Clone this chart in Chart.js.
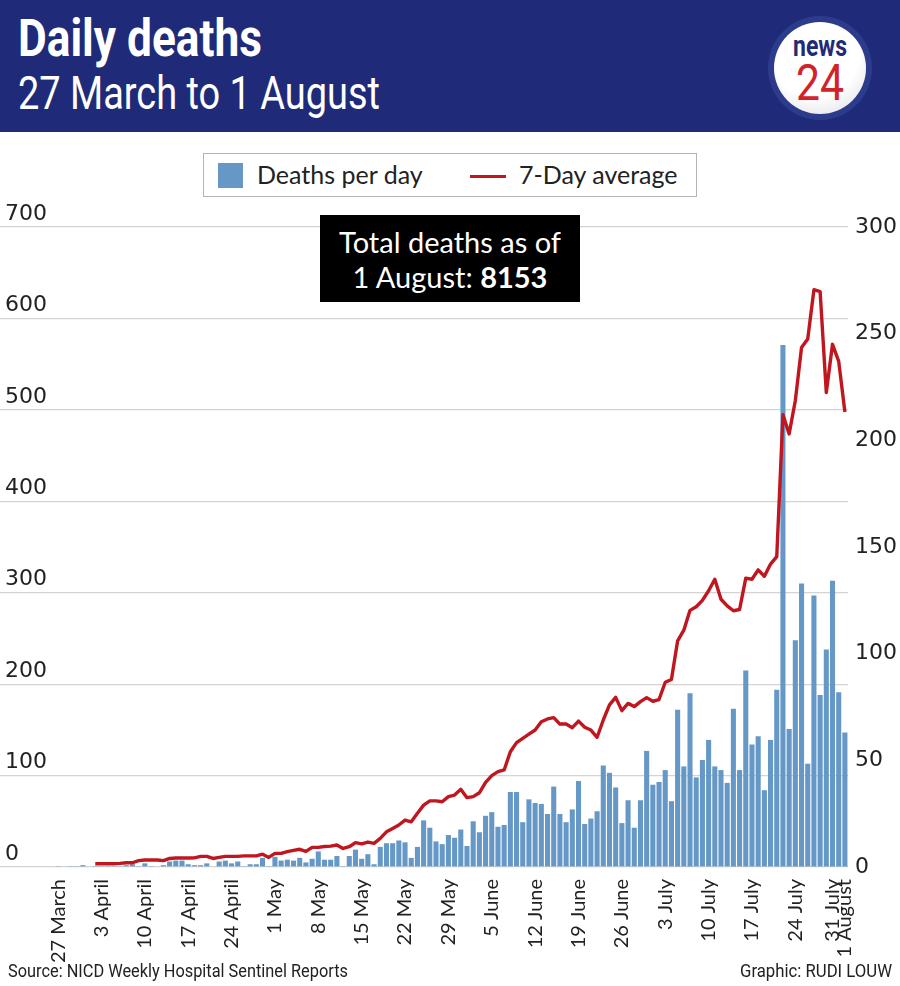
<!DOCTYPE html>
<html>
<head>
<meta charset="utf-8">
<script src="https://cdn.jsdelivr.net/npm/chart.js@4.4.1/dist/chart.umd.min.js"></script>
<style>
  html, body { margin: 0; padding: 0; background: #fff; }
  #wrap { position: relative; width: 900px; height: 986px; overflow: hidden; }
  #chart { position: absolute; left: 0; top: 0; }
  .abs { position: absolute; white-space: nowrap; }
  .cond { font-family: Roboto, "DejaVu Sans Condensed", sans-serif; transform-origin: 0 0; }
  #banner { left: 0; top: 0; width: 900px; height: 132px; background: #1f2b78; }
  #title { left: 18px; top: 13px; font-size: 51px; line-height: 51px; font-weight: bold; color: #fff; }
  #subtitle { left: 18px; top: 70px; font-size: 46px; line-height: 46px; color: #fff; }
  #logo { left: 768px; top: 16px; width: 104px; height: 104px; border-radius: 50%; background: #2c3b8c; }
  #logoIn { left: 6px; top: 6px; width: 92px; height: 92px; border-radius: 50%;
            background: radial-gradient(circle at 45% 35%, #ffffff 55%, #d9d9de 100%); }
  #logoNews { left: 19px; top: 10px; font-size: 29px; line-height: 29px; font-weight: bold; color: #1f2b78; }
  #logo24 { left: 22px; top: 36px; font-size: 50px; line-height: 50px; color: #d2232a; }
  #legend { left: 203px; top: 153px; width: 492px; height: 42px; border: 1.5px solid #b3b3b3; background: #fff; }
  .legTxt { font-family: Lato, "Open Sans", sans-serif; font-size: 25px; line-height: 25px; color: #222; top: 8px; }
  #legSq { left: 14px; top: 9px; width: 25px; height: 25px; background: #6598c6; }
  #legLn { left: 266px; top: 21px; width: 36px; height: 3px; background: #c0161f; }
  #note { left: 320px; top: 215px; width: 260px; height: 87px; background: #000; color: #fff;
          font-family: Lato, "Open Sans", sans-serif; font-size: 29px; line-height: 35px; text-align: center; }
  #note div { position: relative; top: 9px; }
  #source { left: 8px; top: 961px; font-size: 19px; line-height: 19px; color: #222; }
  #credit { left: 740px; top: 961px; font-size: 19px; line-height: 19px; color: #222; }
</style>
</head>
<body>
<div id="wrap">
  <canvas id="chart" width="900" height="986"></canvas>

  <div id="banner" class="abs">
    <div id="title" class="abs cond" data-w="244">Daily deaths</div>
    <div id="subtitle" class="abs cond" data-w="362">27 March to 1 August</div>
    <div id="logo" class="abs">
      <div id="logoIn" class="abs">
        <div id="logoNews" class="abs cond" data-w="54">news</div>
        <div id="logo24" class="abs cond" data-w="48">24</div>
      </div>
    </div>
  </div>

  <div id="legend" class="abs">
    <div id="legSq" class="abs"></div>
    <div class="abs legTxt" style="left:53px">Deaths per day</div>
    <div id="legLn" class="abs"></div>
    <div class="abs legTxt" style="left:315px">7-Day average</div>
  </div>

  <div id="note" class="abs">
    <div>Total deaths as of</div>
    <div>1 August: <b>8153</b></div>
  </div>

  <div id="source" class="abs cond" data-w="340">Source: NICD Weekly Hospital Sentinel Reports</div>
  <div id="credit" class="abs cond" data-w="152">Graphic: RUDI LOUW</div>
</div>

<script>
// squeeze the condensed headline/footer texts to the widths of the source
document.querySelectorAll('[data-w]').forEach(el => {
  const w = el.getBoundingClientRect().width;
  el.style.transform = 'scaleX(' + (el.dataset.w / w) + ')';
});

// one category per day, 27 March to 1 August
const startDate = new Date(2020, 2, 27);
const dayCount = 128;
const months = ['January','February','March','April','May','June','July','August'];
const days = [];
for (let i = 0; i < dayCount; i++) {
  const d = new Date(startDate.getFullYear(), startDate.getMonth(), startDate.getDate() + i);
  days.push(d.getDate() + ' ' + months[d.getMonth()]);
}

// labels shown under the axis (the source nudges "31 July" left to make room)
const tickLabels = {
  '27 March': '27 March', '3 April': '3 April', '10 April': '10 April', '17 April': '17 April',
  '24 April': '24 April', '1 May': '1 May', '8 May': '8 May', '15 May': '15 May',
  '22 May': '22 May', '29 May': '29 May', '5 June': '5 June', '12 June': '12 June',
  '19 June': '19 June', '26 June': '26 June', '3 July': '3 July', '10 July': '10 July',
  '17 July': '17 July', '24 July': '24 July', '30 July': '31 July', '1 August': '1 August'
};

// deaths per day (left axis)
const deaths = [
  1, 0, 1, 1, 2, 0, 1, 1, 1, 1,
  1, 2, 3, 1, 4, 1, 0, 2, 6, 7,
  7, 3, 2, 2, 4, 0, 6, 7, 4, 6,
  1, 3, 3, 10, 1, 11, 7, 8, 7, 10,
  5, 9, 17, 8, 8, 12, 1, 12, 19, 9,
  14, 3, 22, 26, 26, 29, 27, 10, 22, 51,
  43, 28, 25, 35, 32, 41, 23, 50, 38, 56,
  60, 44, 46, 82, 82, 49, 74, 70, 69, 58,
  88, 58, 49, 63, 94, 47, 53, 61, 111, 103,
  87, 48, 73, 43, 73, 127, 90, 93, 106, 72,
  172, 110, 190, 98, 117, 139, 110, 106, 92, 173,
  106, 215, 134, 143, 84, 139, 194, 571, 151, 248,
  310, 113, 297, 188, 238, 313, 191, 147
];

// 7-day average (right axis)
const sevenDay = [
  null, null, null, null, null, null, 1.5, 1.5, 1.5, 1.5,
  1.7, 2, 2, 3, 3.3, 3.3, 3.3, 3, 4, 4.2,
  4.2, 4.2, 4.3, 5, 5, 4, 4.5, 5, 5, 5,
  5.2, 5.2, 5.2, 6, 4.5, 6.4, 6.4, 7.2, 7.8, 8.3,
  7.3, 9.2, 9.2, 9.6, 9.8, 10.3, 8.7, 9.5, 11.4, 10.8,
  11.7, 11.1, 13.4, 16.5, 18.1, 19.7, 22, 21.2, 25.2, 29,
  31, 31, 30.6, 33, 33.7, 36.4, 32.5, 33, 34.8, 39.7,
  42.8, 44.7, 45.5, 54, 58.3, 60.3, 62.3, 64.2, 68.1, 69.4,
  70, 67, 67, 65.3, 68.4, 65.5, 64.2, 60.8, 68.9, 76,
  79.5, 73.3, 76.7, 75.2, 77.5, 79.4, 77.7, 78.5, 86.6, 87.9,
  106, 111, 120.3, 122, 125, 129.5, 134.9, 125.5, 122.4, 120.1,
  120.7, 135.4, 134.9, 139.3, 136.3, 142, 145.5, 212, 203, 218.7,
  243.5, 247.5, 270.6, 269.7, 222.4, 245, 237, 213.3
];

const leftTicks = [0, 100, 200, 300, 400, 500, 600, 700];
const rightTicks = [0, 50, 100, 150, 200, 250, 300];

const axisFont = { family: '"DejaVu Sans", sans-serif', size: 22 };

new Chart(document.getElementById('chart'), {
  type: 'bar',
  data: {
    labels: days,
    datasets: [{
      label: '7-Day average',
      type: 'line',
      data: sevenDay,
      yAxisID: 'y2',
      order: 0,
      borderColor: '#c0161f',
      borderWidth: 3.4,
      pointRadius: 0,
      tension: 0,
      borderJoinStyle: 'round'
    }, {
      label: 'Deaths per day',
      data: deaths,
      yAxisID: 'y',
      order: 1,
      backgroundColor: '#6598c6',
      borderWidth: 0,
      barPercentage: 0.82,
      categoryPercentage: 1
    }]
  },
  options: {
    responsive: false,
    animation: false,
    layout: { padding: { left: 5, right: 0, top: 227, bottom: 19 } },
    plugins: { legend: { display: false }, tooltip: { enabled: false } },
    scales: {
      x: {
        grid: { display: false },
        border: { display: false },
        ticks: {
          autoSkip: false,
          maxRotation: 90,
          minRotation: 90,
          padding: 4,
          color: '#222',
          font: { family: 'Lato, "Open Sans", sans-serif', size: 20 },
          callback: (v, i) => tickLabels[days[i]] || ''
        },
        afterFit: s => { s.height = 100; }
      },
      y: {
        position: 'left',
        min: leftTicks[0],
        max: leftTicks[leftTicks.length - 1],
        afterBuildTicks: s => { s.ticks = leftTicks.map(v => ({ value: v })); },
        grid: { color: '#d3d3d3', lineWidth: 1.2, tickLength: 55 },
        border: { display: false },
        ticks: { crossAlign: 'far', labelOffset: -13, padding: 0, color: '#222', font: axisFont },
        afterFit: s => { s.width = 50; }
      },
      y2: {
        position: 'right',
        min: rightTicks[0],
        max: rightTicks[rightTicks.length - 1],
        afterBuildTicks: s => { s.ticks = rightTicks.map(v => ({ value: v })); },
        grid: { display: false, drawTicks: false },
        border: { display: false },
        ticks: { padding: 7, color: '#222', font: axisFont },
        afterFit: s => { s.width = 52; }
      }
    }
  }
});
</script>
</body>
</html>
